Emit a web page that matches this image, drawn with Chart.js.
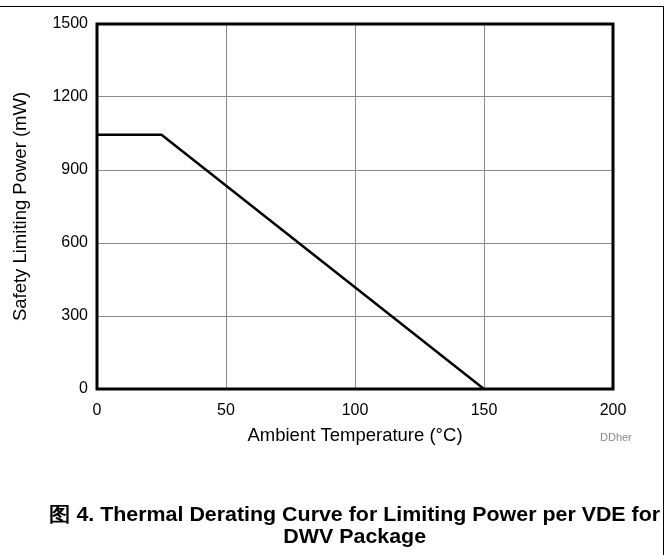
<!DOCTYPE html>
<html>
<head>
<meta charset="utf-8">
<script src="https://cdn.jsdelivr.net/npm/chart.js@4"></script>
<style>
    body { margin: 0; background: #fff; }
    #wrap { position: relative; width: 669px; height: 555px; overflow: hidden; }
    #frame { position: absolute; left: -5px; top: 6px; width: 668px; height: 600px;
        border-top: 1.5px solid #000; border-right: 1.5px solid #000; }
    #chart { position: absolute; left: 0; top: 0; }
    #note { position: absolute; left: 600px; top: 431px; font: 11px "Liberation Sans", Arial, sans-serif; color: #888; }
    .caption { position: absolute; left: 0; width: 710px; text-align: center; line-height: 23px; }
    .caption span { display: inline-block; font: bold 20px "Liberation Sans", Arial, sans-serif; color: #000; white-space: nowrap; }
</style>
</head>
<body>
<div id="wrap">
    <div id="frame"></div>
    <canvas id="chart" width="669" height="555"></canvas>
    <div id="note">DDher</div>
    <div class="caption" style="top: 501px;"><span id="cap1">图 4. Thermal Derating Curve for Limiting Power per VDE for</span></div>
    <div class="caption" style="top: 525px;"><span id="cap2">DWV Package</span></div>
</div>
<script>
const temperatures = [0, 25, 150];
const powerValues = [1045, 1045, 0];
const xTicks = [0, 50, 100, 150, 200];
const yTicks = [0, 300, 600, 900, 1200, 1500];

const fontFamily = '"Liberation Sans", Arial, sans-serif';
const tickFont = { family: fontFamily, size: 16 };
const titleFont = { family: fontFamily, size: 18.5 };

// caption in the reference is a narrow bold face, squeeze ours to the same width
const cap1 = document.getElementById('cap1');
const cap2 = document.getElementById('cap2');
const stretch = 611 / cap1.getBoundingClientRect().width;
cap1.style.transform = 'scaleX(' + stretch + ')';
cap2.style.transform = 'scaleX(' + stretch + ')';

const frameBox = {
    id: 'frameBox',
    afterDraw(chart) {
        const a = chart.chartArea;
        const ctx = chart.ctx;
        ctx.save();
        ctx.strokeStyle = '#000';
        ctx.lineWidth = 3;
        ctx.strokeRect(a.left, a.top, a.right - a.left, a.bottom - a.top);
        ctx.restore();
    }
};

const ctx = document.getElementById('chart').getContext('2d');
const chart = new Chart(ctx, {
    type: 'line',
    data: {
        datasets: [{
            data: temperatures.map((t, i) => ({ x: t, y: powerValues[i] })),
            borderColor: '#000',
            borderWidth: 2.5,
            pointRadius: 0,
            fill: false,
            tension: 0
        }]
    },
    options: {
        responsive: false,
        animation: false,
        layout: { padding: { left: 5, top: 24, right: 56, bottom: 106 } },
        plugins: { legend: { display: false }, tooltip: { enabled: false } },
        scales: {
            x: {
                type: 'linear',
                min: 0,
                max: 200,
                afterBuildTicks: s => { s.ticks = xTicks.map(v => ({ value: v })); },
                afterFit: s => { s.height = 60; },
                grid: { color: '#8a8a8a', lineWidth: 1, drawTicks: false },
                border: { display: false },
                ticks: { font: tickFont, color: '#000', padding: 12, maxRotation: 0, callback: v => String(v) },
                title: {
                    display: true,
                    text: 'Ambient Temperature (°C)',
                    font: titleFont,
                    color: '#000',
                    padding: { top: 0, bottom: 2 }
                }
            },
            y: {
                min: 0,
                max: 1500,
                afterBuildTicks: s => { s.ticks = yTicks.map(v => ({ value: v })); },
                afterFit: s => { s.width = 92; },
                grid: { color: '#8a8a8a', lineWidth: 1, drawTicks: false },
                border: { display: false },
                ticks: { font: tickFont, color: '#000', padding: 9, callback: v => String(v) },
                title: {
                    display: true,
                    text: 'Safety Limiting Power (mW)',
                    font: titleFont,
                    color: '#000',
                    padding: { top: 5, bottom: 0 }
                }
            }
        }
    },
    plugins: [frameBox]
});
</script>
</body>
</html>
